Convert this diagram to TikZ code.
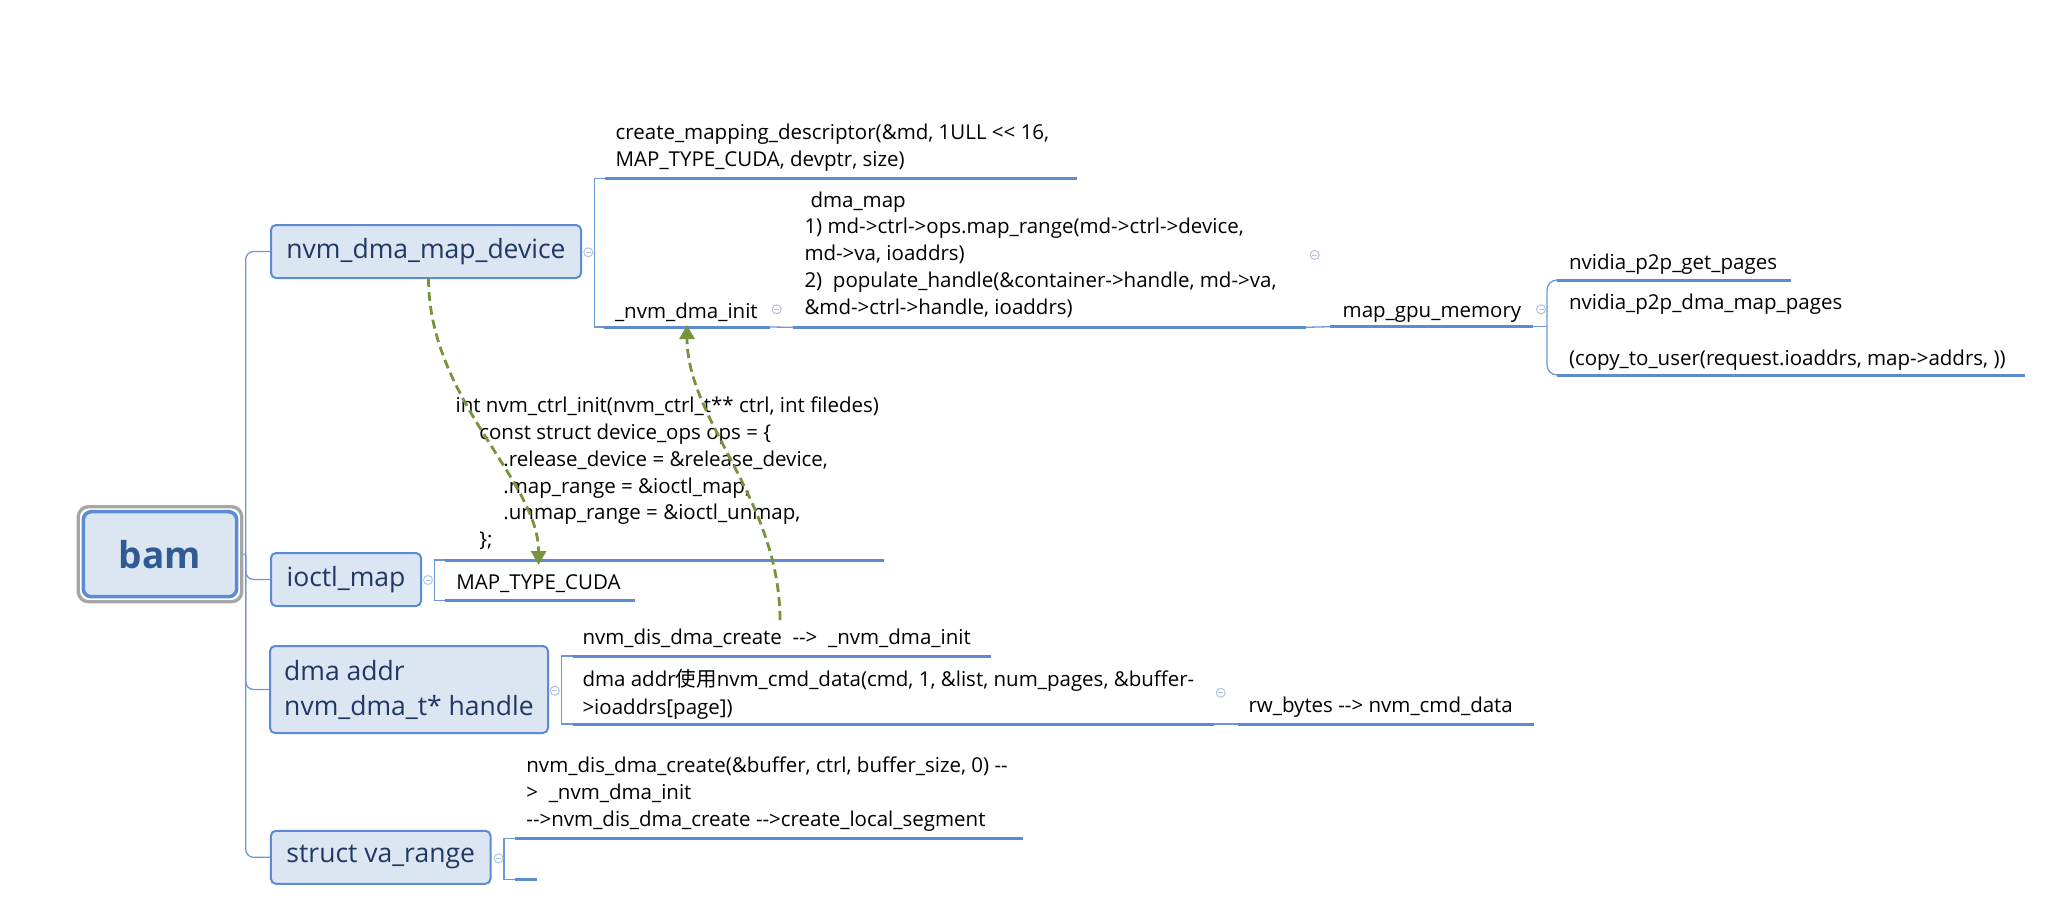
\documentclass[tikz,border=0pt]{standalone}
\usepackage{fontspec}
\setmainfont{Open Sans}[Ligatures=TeXOff]
\newfontfamily\cjk{Noto Sans CJK SC}
\usetikzlibrary{arrows.meta,fit}
\definecolor{boxfill}{HTML}{DCE6F2}
\definecolor{boxline}{HTML}{5B8BD3}
\definecolor{boxtext}{HTML}{1F3864}
\definecolor{bamtext}{HTML}{2F5A92}
\definecolor{connc}{HTML}{6C98D9}
\definecolor{ulc}{HTML}{5B8BD0}
\definecolor{collc}{HTML}{AFC3E3}
\definecolor{grn}{HTML}{77933C}
\definecolor{framec}{HTML}{A6A6A6}
\newcommand\leafbox[4]{\makebox[#1pt][l]{\hspace*{#2pt}\raisebox{0pt}[\height][#3pt]{\begin{tabular}[b]{@{}l@{}}#4\end{tabular}}}}
\tikzset{
 mainbox/.style={rectangle, rounded corners=5pt, fill=boxfill, draw=boxline, line width=2pt, text=boxtext, font=\fontsize{26.5}{35}\selectfont, inner sep=0pt, outer sep=0pt, align=left},
 leaf/.style={inner sep=0pt, outer sep=0pt, anchor=south west, font=\fontsize{20.5}{26.8}\selectfont, text=black},
 uline/.style={draw=ulc, line width=3pt},
 conn/.style={draw=connc, line width=1.3pt},
 coll/.style={circle, draw=collc, line width=1pt, minimum size=9pt, inner sep=0pt, fill=white, path picture={\draw[collc, line width=1pt] ([xshift=-2.5pt]path picture bounding box.center) -- ([xshift=2.5pt]path picture bounding box.center);}},
 garrow/.style={draw=grn, line width=2.8pt, dash pattern=on 9pt off 5pt, -{Triangle[width=15pt,length=14pt,fill=grn]}},
}
\begin{document}
\begin{tikzpicture}[x=1pt,y=-1pt]
\useasboundingbox (0,0) rectangle (2060,911);
% main boxes
\node[mainbox, minimum width=153.4pt, minimum height=85pt, line width=3.5pt, text=bamtext, font=\fontsize{37}{40}\selectfont\bfseries, rounded corners=8pt] (bam) at (160,554.2) {bam};
\node[fit=(bam), inner sep=5pt, draw=framec, line width=3.3pt, rounded corners=10pt] (bamframe) {};
\node[mainbox, minimum width=310pt, minimum height=53pt] (N1) at (426,251.5) {nvm\_dma\_map\_device};
\node[mainbox, minimum width=150pt, minimum height=53pt] (N2) at (346,579.5) {ioctl\_map};
\node[mainbox, minimum width=278pt, minimum height=87pt] (N3) at (409,689.5) {dma addr\\nvm\_dma\_t* handle};
\node[mainbox, minimum width=219.6pt, minimum height=53pt] (N4) at (380.7,857.3) {struct va\_range};
% trunk
\coordinate (trunk) at (245.7,554.5);
\draw[conn] (bamframe.east) -- (trunk);
\draw[conn, rounded corners=8pt] (trunk) |- (N1.west);
\draw[conn, rounded corners=8pt] (trunk) |- (N2.west);
\draw[conn, rounded corners=8pt] (trunk) |- (N3.west);
\draw[conn, rounded corners=8pt] (trunk) |- (N4.west);
% leaves
\node[leaf] (L1) at (604.5,178.3) {\leafbox{472.9}{11.2}{11.6}{create\_mapping\_descriptor(\&md, 1ULL << 16,\\MAP\_TYPE\_CUDA, devptr, size)}};
\node[leaf] (L2) at (604,327) {\leafbox{166}{11}{9}{\_nvm\_dma\_init}};
\node[leaf] (L3) at (793.3,327.3) {\leafbox{512.2}{11.2}{13}{\hspace*{6pt}dma\_map\\1) md->ctrl->ops.map\_range(md->ctrl->device,\\md->va, ioaddrs)\\2)\ \ populate\_handle(\&container->handle, md->va,\\\&md->ctrl->handle, ioaddrs)}};
\node[leaf] (L4) at (1330,326.7) {\leafbox{202.7}{12.7}{9.4}{map\_gpu\_memory}};
\node[leaf] (L5) at (1557,280) {\leafbox{234}{12}{10.7}{nvidia\_p2p\_get\_pages}};
\node[leaf, font=\fontsize{20.5}{27.8}\selectfont] (L6) at (1557,375) {\leafbox{467.7}{12}{10}{nvidia\_p2p\_dma\_map\_pages\\ \\(copy\_to\_user(request.ioaddrs, map->addrs, ))}};
\node[leaf] (L7) at (444.9,560) {\leafbox{438.9}{10.7}{13.3}{int nvm\_ctrl\_init(nvm\_ctrl\_t** ctrl, int filedes)\\\hspace*{23.7pt}const struct device\_ops ops = \{\\\hspace*{47.8pt}.release\_device = \&release\_device,\\\hspace*{47.8pt}.map\_range = \&ioctl\_map,\\\hspace*{47.8pt}.unmap\_range = \&ioctl\_unmap,\\\hspace*{23.7pt}\};}};
\node[leaf] (L8) at (444.9,600.7) {\leafbox{190.1}{11.5}{11.4}{MAP\_TYPE\_CUDA}};
\node[leaf] (L9) at (572.7,656) {\leafbox{417.8}{9.8}{12}{nvm\_dis\_dma\_create\ \ -->\ \ \_nvm\_dma\_init}};
\node[leaf, font=\fontsize{20.5}{28}\selectfont] (L10) at (572.7,724) {\leafbox{640.8}{9.8}{10}{dma addr{\cjk 使用}nvm\_cmd\_data(cmd, 1, \&list, num\_pages, \&buffer-\\>ioaddrs[page])}};
\node[leaf] (L11) at (1238,724) {\leafbox{296.3}{10.5}{11.7}{rw\_bytes --> nvm\_cmd\_data}};
\node[leaf] (L12) at (514.6,838.3) {\leafbox{508.8}{11.8}{12.3}{nvm\_dis\_dma\_create(\&buffer, ctrl, buffer\_size, 0) --\\>\ \ \_nvm\_dma\_init\\-->nvm\_dis\_dma\_create -->create\_local\_segment}};
\node[leaf] (L13) at (514.6,879.3) {\leafbox{22.4}{0}{0}{}};
% underlines
\foreach \n in {L1,L2,L3,L4,L5,L6,L7,L8,L9,L10,L11,L12,L13}
  \draw[uline] (\n.south west) -- (\n.south east);
% brackets and links
\draw[conn] (L1.south west) -- ++(-10,0) |- (L2.south west);
\draw[conn] (L2.south east) -- (L3.south west);
\draw[conn] (L3.south east) -- (L4.south west);
\draw[conn] (L4.south east) -- ++(14.3,0) coordinate (j4);
\draw[conn, rounded corners=10pt] (j4) |- (L5.south west);
\draw[conn, rounded corners=10pt] (j4) |- (L6.south west);
\draw[conn] (L7.south west) -- ++(-10.4,0) |- (L8.south west);
\draw[conn] (L9.south west) -- ++(-11.2,0) |- (L10.south west);
\draw[conn] (L10.south east) -- (L11.south west);
\draw[conn] (L12.south west) -- ++(-10.7,0) |- (L13.south west);
% collapse markers
\node[coll] (c1) at (588.3,252.3) {};
\node[coll] (c2) at (428,580) {};
\node[coll] (c3) at (554.8,690.7) {};
\node[coll] (c4) at (498.5,858.3) {};
\node[coll] (c5) at (776.7,309.3) {};
\node[coll] (c6) at (1314.7,255) {};
\node[coll] (c7) at (1541,309.3) {};
\node[coll] (c8) at (1220.7,692.7) {};
% green dashed arrows
\coordinate (a1s) at (428.5,278);
\coordinate (a1e) at (538.6,565);
\coordinate (a2s) at (780,620);
\coordinate (a2e) at (687,325);
\draw[garrow] (a1s) .. controls (428.5,400) and (538.6,480) .. (a1e);
\draw[garrow] (a2s) .. controls (780,500) and (687,420) .. (a2e);
\end{tikzpicture}
\end{document}
